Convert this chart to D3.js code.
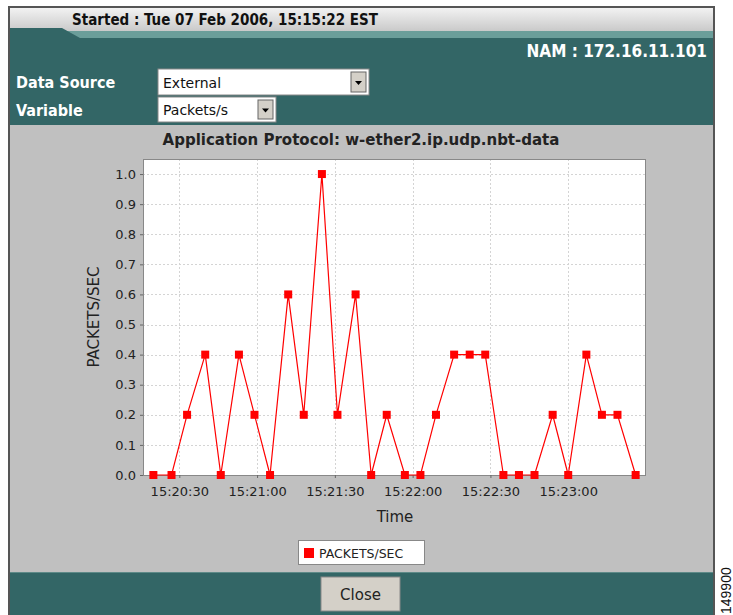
<!DOCTYPE html>
<html>
<head>
<meta charset="utf-8">
<script src="https://cdn.jsdelivr.net/npm/d3@7"></script>
<style>
body { margin: 0; background: #fff; }
svg { display: block; }
.hdr { font-family: "DejaVu Sans Condensed", "DejaVu Sans", sans-serif; font-weight: bold; }
.chart text { font-family: "DejaVu Sans", sans-serif; }
</style>
</head>
<body>
<div id="chart"></div>
<script>
// sample times and packets/sec
var times = ["15:20:20","15:20:27","15:20:33","15:20:40","15:20:46","15:20:53","15:20:59","15:21:05",
             "15:21:12","15:21:18","15:21:25","15:21:31","15:21:38","15:21:44","15:21:50","15:21:57",
             "15:22:03","15:22:09","15:22:16","15:22:22","15:22:28","15:22:35","15:22:41","15:22:47",
             "15:22:54","15:23:00","15:23:07","15:23:13","15:23:19","15:23:26"];
var packets = [0,0,0.2,0.4,0,0.4,0.2,0,0.6,0.2,1.0,0.2,0.6,0,0.2,0,0,0.2,0.4,0.4,0.4,0,0,0,0.2,0,0.4,0.2,0.2,0];
var xTicks = ["15:20:30","15:21:00","15:21:30","15:22:00","15:22:30","15:23:00"];
var yTicks = [0,0.1,0.2,0.3,0.4,0.5,0.6,0.7,0.8,0.9,1.0];

var W = 733, H = 615;
var parse = d3.timeParse("%H:%M:%S");
var fmt = d3.timeFormat("%H:%M:%S");

var data = times.map(function(t, i){ return {t: parse(t), v: packets[i]}; });

var svg = d3.select("#chart").append("svg")
    .attr("width", W).attr("height", H);

var defs = svg.append("defs");
var g1 = defs.append("linearGradient").attr("id", "bar").attr("x1", 0).attr("y1", 0).attr("x2", 0).attr("y2", 1);
g1.append("stop").attr("offset", "0%").attr("stop-color", "#f2f2f2");
g1.append("stop").attr("offset", "100%").attr("stop-color", "#c6c6c6");

// frame
svg.append("rect").attr("x", 9).attr("y", 7).attr("width", 705).attr("height", 610)
    .attr("fill", "#c0c0c0").attr("stroke", "#555").attr("stroke-width", 2);

// title bar + tab
svg.append("rect").attr("x", 10).attr("y", 8).attr("width", 703).attr("height", 25).attr("fill", "url(#bar)");
svg.append("rect").attr("x", 10).attr("y", 31).attr("width", 703).attr("height", 7).attr("fill", "#6b9e9a");
svg.append("path").attr("d", "M10,28 L62,28 L80,38 L10,38 Z").attr("fill", "#336666");
svg.append("rect").attr("x", 10).attr("y", 38).attr("width", 703).attr("height", 87).attr("fill", "#336666");

svg.append("text").attr("class", "hdr").attr("x", 72).attr("y", 25)
    .attr("font-size", 15).attr("fill", "#111")
    .text("Started : Tue 07 Feb 2006, 15:15:22 EST");

svg.append("text").attr("class", "hdr").attr("x", 707).attr("y", 57)
    .attr("text-anchor", "end").attr("font-size", 17).attr("fill", "#fff")
    .attr("font-weight", "normal")
    .text("NAM : 172.16.11.101");

svg.append("text").attr("class", "hdr").attr("x", 16).attr("y", 88)
    .attr("font-size", 16).attr("fill", "#fff").text("Data Source");
svg.append("text").attr("class", "hdr").attr("x", 16).attr("y", 116)
    .attr("font-size", 16).attr("fill", "#fff").text("Variable");

// fake select boxes
function selectBox(x, y, w, h, label){
    svg.append("rect").attr("x", x).attr("y", y).attr("width", w).attr("height", h)
        .attr("fill", "#fff").attr("stroke", "#888");
    svg.append("text").attr("x", x + 5).attr("y", y + h - 7)
        .attr("font-family", "DejaVu Sans, sans-serif").attr("font-size", 14).attr("fill", "#111")
        .text(label);
    svg.append("rect").attr("x", x + w - 18).attr("y", y + 3).attr("width", 15).attr("height", h - 6)
        .attr("fill", "#d4d0c8").attr("stroke", "#666");
    svg.append("path").attr("d", "M" + (x + w - 14) + "," + (y + h/2 - 1) + " l7,0 l-3.5,4 z").attr("fill", "#000");
}
selectBox(158, 69, 211, 26, "External");
selectBox(158, 97, 118, 25, "Packets/s");

// bottom band + close
svg.append("rect").attr("x", 10).attr("y", 572).attr("width", 703).attr("height", 43).attr("fill", "#336666");
svg.append("line").attr("x1", 10).attr("x2", 713).attr("y1", 572.5).attr("y2", 572.5).attr("stroke", "#5e8a88");
svg.append("rect").attr("x", 321).attr("y", 577).attr("width", 79).attr("height", 34)
    .attr("fill", "#d4d0c8").attr("stroke", "#888");
svg.append("text").attr("x", 360.5).attr("y", 600).attr("text-anchor", "middle")
    .attr("font-family", "DejaVu Sans, sans-serif").attr("font-size", 15).attr("fill", "#222").text("Close");

svg.append("text").attr("transform", "translate(731,614) rotate(-90)")
    .attr("font-family", "Liberation Sans, sans-serif").attr("font-size", 14).attr("fill", "#111")
    .text("149900");

// ---- chart ----
var chart = svg.append("g").attr("class", "chart");
var pLeft = 143, pRight = 646, pTop = 159, pBottom = 475;

var x = d3.scaleTime()
    .domain([parse("15:20:16"), parse("15:23:30")])
    .range([pLeft, pRight]);
var y = d3.scaleLinear().domain([0, 1.05]).range([pBottom, pTop]);

chart.append("text").attr("x", 361).attr("y", 145).attr("text-anchor", "middle")
    .attr("font-size", 15).attr("font-weight", "bold").attr("fill", "#222")
    .text("Application Protocol: w-ether2.ip.udp.nbt-data");

chart.append("rect").attr("x", pLeft).attr("y", pTop).attr("width", pRight - pLeft).attr("height", pBottom - pTop)
    .attr("fill", "#fff");

// grid
chart.append("g").selectAll("line").data(yTicks.slice(1)).enter().append("line")
    .attr("x1", pLeft).attr("x2", pRight)
    .attr("y1", function(d){ return Math.round(y(d)) + 0.5; })
    .attr("y2", function(d){ return Math.round(y(d)) + 0.5; })
    .attr("stroke", "#d4d4d4").attr("stroke-dasharray", "2,2");
chart.append("g").selectAll("line").data(xTicks).enter().append("line")
    .attr("x1", function(d){ return Math.round(x(parse(d))) + 0.5; })
    .attr("x2", function(d){ return Math.round(x(parse(d))) + 0.5; })
    .attr("y1", pTop).attr("y2", pBottom)
    .attr("stroke", "#d4d4d4").attr("stroke-dasharray", "2,2");

chart.append("rect").attr("x", pLeft + 0.5).attr("y", pTop + 0.5).attr("width", pRight - pLeft - 1).attr("height", pBottom - pTop)
    .attr("fill", "none").attr("stroke", "#888");

// axes
var yAxis = chart.append("g").attr("transform", "translate(" + pLeft + ",0)")
    .call(d3.axisLeft(y).tickValues(yTicks).tickFormat(d3.format(".1f")).tickSize(3).tickPadding(4));
var xAxis = chart.append("g").attr("transform", "translate(0," + pBottom + ")")
    .call(d3.axisBottom(x).tickValues(xTicks.map(parse)).tickFormat(fmt).tickSize(3).tickPadding(9));
[yAxis, xAxis].forEach(function(a){
    a.select(".domain").remove();
    a.selectAll("line").attr("stroke", "#666");
    a.selectAll("text").attr("font-size", 13).attr("fill", "#222").attr("font-family", "DejaVu Sans, sans-serif");
});

chart.append("text").attr("x", 395).attr("y", 522).attr("text-anchor", "middle")
    .attr("font-size", 15).attr("fill", "#222").text("Time");
chart.append("text").attr("transform", "translate(99,317) rotate(-90)").attr("text-anchor", "middle")
    .attr("font-size", 15).attr("fill", "#222").text("PACKETS/SEC");

// series
var line = d3.line().x(function(d){ return x(d.t); }).y(function(d){ return y(d.v); });
chart.append("path").datum(data).attr("d", line)
    .attr("fill", "none").attr("stroke", "#ff0000").attr("stroke-width", 1.2);
chart.append("g").selectAll("rect").data(data).enter().append("rect")
    .attr("x", function(d){ return x(d.t) - 4; })
    .attr("y", function(d){ return y(d.v) - 4; })
    .attr("width", 8).attr("height", 8)
    .attr("fill", "#ff0000");

// legend
chart.append("rect").attr("x", 298.5).attr("y", 540.5).attr("width", 126).attr("height", 24)
    .attr("fill", "#fff").attr("stroke", "#888");
chart.append("rect").attr("x", 304).attr("y", 548).attr("width", 10).attr("height", 10).attr("fill", "#ff0000");
chart.append("text").attr("x", 319).attr("y", 558).attr("font-size", 12.5).attr("fill", "#222").text("PACKETS/SEC");
</script>
</body>
</html>
